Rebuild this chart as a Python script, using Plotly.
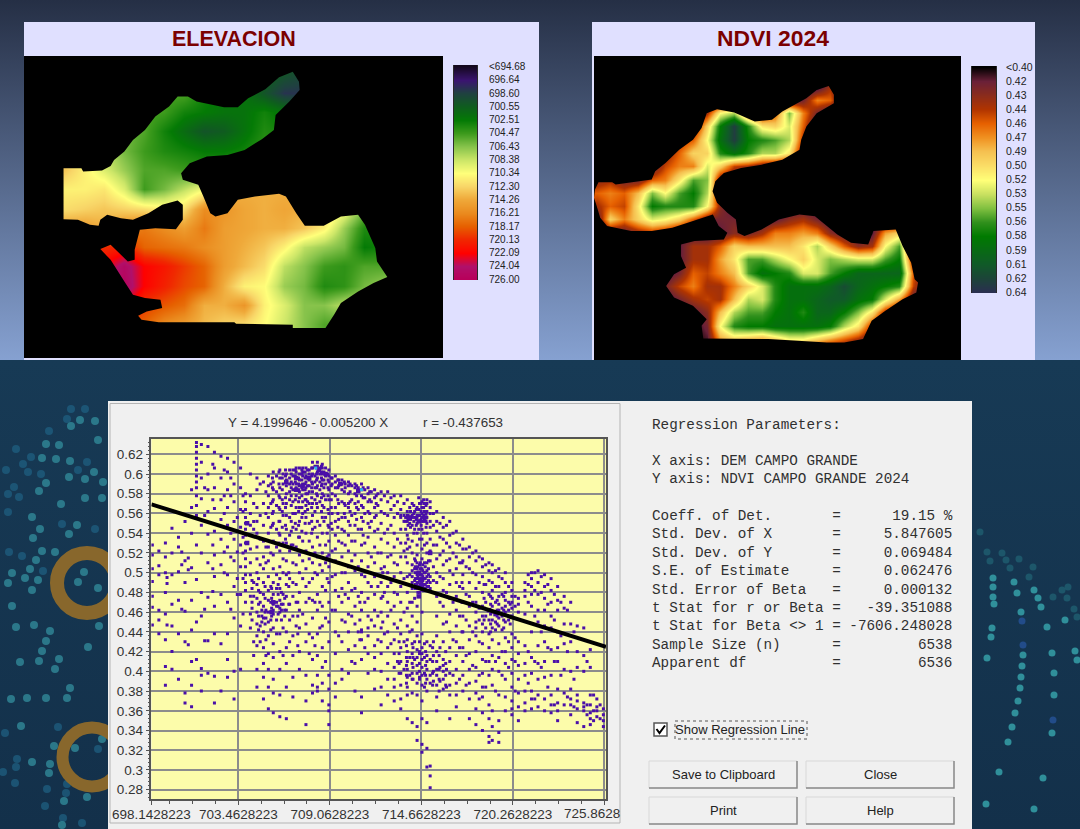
import plotly.graph_objects as go

W, H = 1080, 829

# ---- elevation map (grid, map units) ----
elev_x = [70 + 58 * i for i in range(22)]
elev_y = [162 + 58 * j for j in range(16)]
elev_z = [
    [712,712,710,708,706,705,705,705,704,703,703,702,701,700,700,700,702,702,702,702,702,702],
    [712,712,710,708,706,705,705,705,704,703,703,702,701,700,699,700,702,702,702,702,702,702],
    [712,712,710,708,706,705,705,705,705,703,702,702,700,698,698,700,702,702,702,702,702,702],
    [712,711,710,708,706,705,705,704.5,703,702.5,702,702,703,702,700,700,702,702,702,702,702,702],
    [712,711,710,708,707,706,705,703,701.5,700,700.5,702,703.5,703,702,702,702,702,702,702,702,702],
    [714,712,710,708,708,706,704.5,703.5,703,702.5,702.5,703,704,704,704,704,704,704,704,704,704,704],
    [714,714,713,711,709,707,705,705,704.5,704,704,704,704,704,704,704,704,704,704,704,704,704],
    [712,712,711,711,711.5,709,704.5,706,708,710,713,714,714,714,714,714,714,714,714,714,714,714],
    [712,712,712,712.5,713,712.5,712,711,712,716,715.5,714.5,714,714.5,714,713,710,706,704,704,704,704],
    [715,715,715,715,714,716,717,716,715,717,715,714.5,714,714,713,711,707,703.5,703,704,704,704],
    [718,718,718,719,720,720.5,718,717.5,717,716,715,714,713,711,708,707,706,702.5,703,704,704,704],
    [722,722,722,722,722,725,722,721,719.5,718,715,713.5,712,708,706.5,704.5,704,705,705,706,706,706],
    [724,724,724,724,724,725.5,722,720.5,719,718,714,711,710.5,707,706,703.5,704,706,707,707,707,707],
    [723,723,723,723,723,723,719.5,718.5,717.5,714,714,715.5,711,709,706.5,706.5,708,708,708,708,708,708],
    [718,718,718,718,718,718,718,716,715,713.5,712.5,712,710.5,708.5,706.5,705,705,705,705,705,705,705],
    [718,718,718,718,718,718,718,716,715,713.5,712.5,712,710.5,708.5,706.5,705,705,705,705,705,705,705],
]
elev_outline_x = [183,235,240,295,320,330,360,385,420,450,490,515,545,570,650,690,720,770,810,850,868,870,840,800,795,760,710,660,600,550,525,530,575,590,610,625,660,690,740,810,830,860,885,940,990,1040,1060,1090,1095,1125,1085,1040,990,970,945,850,850,685,680,460,410,400,425,470,465,420,385,360,320,290,320,370,390,390,405,450,510,530,530,515,470,430,385,350,310,290,285,260,225,183,183]
elev_outline_y = [505,505,515,512,498,480,455,420,390,350,320,290,290,305,322,322,295,268,232,215,245,270,305,345,390,418,450,465,470,490,520,540,555,590,640,650,640,600,590,582,590,640,678,678,650,645,675,745,785,832,850,875,910,945,985,985,975,972,968,968,960,948,935,925,900,895,885,845,780,748,735,785,780,750,690,685,688,660,615,602,615,640,660,655,645,660,678,675,660,658,505]
elev_levels = [694.68,696.64,698.60,700.55,702.51,704.47,706.43,708.38,710.34,712.30,714.26,716.21,718.17,720.13,722.09,724.04,726.00]
elev_labels = ["<694.68","696.64","698.60","700.55","702.51","704.47","706.43","708.38","710.34","712.30","714.26","716.21","718.17","720.13","722.09","724.04","726.00"]
elev_colors = ["#14081e","#3a1470","#1f4140","#0f5c1f","#047a05","#3c9a1c","#85c24a","#cce668","#ffff7a","#f8d668","#efa93a","#ea8a1e","#e66000","#f02800","#ff0000","#b0106a","#b8005a"]

# ---- NDVI map: (first column, values) per row, the rest of the row is below 0.40 ----
ndvi_x = [160 + 40 * i for i in range(27)]
ndvi_y = [180 + 40 * j for j in range(23)]
ndvi_rows = [
    (0, []), (0, []), (17, [44]), (15, [42,47,46]),
    (8, [44,52,54,46,43,46,55,47,42]),
    (7, [42,50,58,63,57,51,50,53,46]),
    (6, [44,46,52,59,63,58,57,56,54,44]),
    (5, [43,46,50,50,57,59,57,54,54,51,42]),
    (4, [41,45,47,47,53,50,45,44,42,41]),
    (0, [43,44,42,42,46,47,51,56,55,42]),
    (0, [46,47,46,49,55,52,56,58,54,42]),
    (0, [44,46,45,51,58,57,57,57,52,43]),
    (0, [41,50,47,50,53,52,50,46,42,42,42,40,40,41,43,44,42]),
    (1, [41,41,43,44,43,41,40,40,41,43,42,44,47,47,48,47,43,41,40,41,48,50]),
    (6, [41,44,44,46,50,49,49,49,49,51,54,50,46,43,44,52,56,42]),
    (6, [41,44,44,48,51,56,56,54,52,50,53,55,54,53,53,56,58,43]),
    (6, [42,46,45,47,49,56,59,58,57,53,53,56,58,60,60,60,60,46]),
    (5, [42,45,47,44,44,47,50,53,57,59,59,59,60,62,60,59,58,57,45]),
    (6, [42,44,45,44,49,54,53,57,59,59,60,61,61,59,58,53,48,41]),
    (7, [41,43,49,54,56,56,58,59,57,60,60,58,55,51,44,41]),
    (8, [42,52,57,58,58,59,59,59,59,58,54,51,44,41]),
    (8, [41,48,50,49,48,50,52,52,50,48,46,44,41]),
    (0, []),
]
ndvi_outline_x = [155,165,205,215,270,320,330,360,400,440,465,480,510,560,620,670,700,770,800,835,850,850,800,770,755,750,700,640,580,530,505,497,510,540,565,570,590,640,690,750,795,830,860,900,950,965,1030,1050,1075,1085,1095,1090,1050,1000,960,935,880,830,660,470,465,480,440,385,362,385,420,405,405,445,530,540,515,498,440,380,320,260,190,170,160,152,155]
ndvi_outline_y = [570,548,548,555,548,540,515,490,450,420,385,340,328,338,365,360,335,295,270,258,285,310,340,380,420,450,480,495,505,520,545,575,610,640,660,700,710,690,660,645,650,680,705,730,735,695,690,740,790,840,850,880,900,935,965,1020,1030,1030,1020,1018,980,960,920,895,860,825,805,770,735,725,720,700,680,645,665,685,695,695,680,655,620,595,570]
ndvi_levels = [40,41.5,43,44.5,46,47.5,49,50.5,52,53.5,55,56.5,58,59.5,61,62.5,64]
ndvi_labels = ["<0.40","0.42","0.43","0.44","0.46","0.47","0.49","0.50","0.52","0.53","0.55","0.56","0.58","0.59","0.61","0.62","0.64"]
ndvi_colors = ["#000000","#6a2038","#8a2c1c","#b03400","#e66000","#f09020","#f5c050","#fadc66","#ffff78","#c8e060","#80c040","#30901c","#007a00","#086a14","#105a28","#1c4438","#2a2f50"]

# ---- regression scatter: elevation column -> NDVI values x 1000 ----
scatter_x = [698.2,698.6,699.0,699.4,699.8,700.2,700.6,700.9,701.2,701.6,702.0,702.4,702.8,703.2,703.6,703.9,704.2,704.6,705.0,705.3,705.6,706.0,706.4,706.8,707.2,707.6,708.0,708.3,708.6,709.0,709.4,709.8,710.2,710.6,711.0,711.4,711.8,712.2,712.6,713.0,713.4,713.8,714.1,714.4,714.7,715.0,715.2,715.6,716.0,716.4,716.8,717.2,717.6,718.0,718.4,718.8,719.0,719.4,719.8,720.2,720.6,721.0,721.4,721.8,722.2,722.6,723.0,723.4,723.8,724.2,724.6,725.0,725.4,725.8]
scatter_y = [
    [528,518,504,491,476,465,447],
    [522,507,498,462,452,438],
    [530,516,500,480,458,432,405,386],
    [545,520,498,468,446,420,402],
    [536,526,501,472,438,392],
    [552,512,490,461,430,378,368],
    [584,566,540,505,472,442,410,386,364],
    [632,628,622,616,610,604,598,592,586,578,568,558,528,493,450,412],
    [630,612,596,575,548,520,480,456,403,396,380],
    [628,600,584,562,539,510,475,431,398],
    [622,606,586,565,542,518,496,466,438,395,368],
    [618,596,574,554,534,508,478,428,380],
    [616,602,584,566,548,526,498,470,438,412,394],
    [612,590,572,552,534,512,486,454,400,372],
    [606,586,564,546,528,506,478,446,402],
    [580,572,564,556,550,544,538,530,522,514,506,498,490,482,470],
    [600,578,560,548,538,524,510,498,476,458,444],
    [596,584,566,552,540,526,514,500,488,474,460,448,436,426,402,384],
    [592,570,548,532,516,504,490,478,466,454,440,424,408,394,372],
    [598,588,578,566,556,540,526,512,496,482,472,460,450,436,418,402,384,362],
    [602,592,584,574,562,550,532,518,504,490,478,468,462,458,444,428,414,392,378,358],
    [604,596,586,576,564,552,538,522,506,494,484,472,464,460,438,420,402,376,354],
    [600,594,588,580,570,558,544,530,512,498,488,476,462,440,424,408,384,352],
    [604,598,590,584,572,560,546,528,510,490,476,456,436,416,394,374],
    [606,600,594,588,582,576,566,552,536,518,500,480,462,444,420,402],
    [606,598,592,586,580,574,568,556,540,522,504,486,470,448,430,396,370,346],
    [612,606,600,590,582,570,558,544,526,510,494,472,454,434,412,386,378],
    [612,608,602,596,588,578,566,552,536,516,498,478,462,438,416,396,384,380],
    [610,606,600,594,590,580,568,556,540,520,502,486,466,446,424,404,388,370],
    [604,598,592,584,574,560,546,532,518,506,490,470,450,430,396,382,366,360,346],
    [598,592,586,578,566,552,538,524,512,498,482,462,440,418,388,374],
    [594,590,584,572,556,544,530,516,500,484,470,452,430,402,392],
    [592,588,580,570,566,552,538,522,506,490,474,458,440,422,398],
    [590,586,580,570,560,548,532,518,502,484,466,448,426,408,380],
    [590,584,578,568,556,544,528,512,498,480,462,442,440,432,412,374,358],
    [586,580,572,562,550,536,520,506,490,474,456,444,436,418,398],
    [584,576,566,556,542,526,510,496,478,462,446,426,414,402,382],
    [582,574,562,550,534,520,504,490,474,460,444,430,418,400,384,366],
    [582,572,558,544,530,516,500,486,470,456,440,424,408,392,376],
    [578,568,556,540,526,510,496,480,466,448,432,418,404,392,384,370],
    [578,564,558,556,544,530,516,500,486,470,452,438,424,410,398,386,372,362],
    [574,562,558,556,552,538,524,510,496,480,464,446,432,420,410,402,394,384,376,352],
    [570,558,556,548,532,520,508,502,496,490,484,470,456,442,428,418,408,398,392,378,348],
    [566,558,556,550,540,528,518,510,504,498,494,490,488,484,466,450,436,422,414,406,398,388,376,344,330],
    [572,566,560,556,552,544,534,524,514,504,498,494,490,488,484,460,438,424,418,412,404,396,386,370,352,326,318],
    [574,570,562,556,550,540,530,520,510,502,496,490,486,482,430,416,410,402,392,380,348,322,303],
    [572,566,560,552,546,534,522,512,496,490,484,426,412,396,388,304,294,282],
    [562,552,542,528,514,500,490,476,456,436,420,410,402,396,386,374,360],
    [556,546,534,522,508,494,482,466,448,430,412,406,400,392,382],
    [552,538,526,514,502,488,474,458,440,424,410,398,386,376,352],
    [542,530,516,504,490,476,462,446,430,416,402,388,376,364],
    [534,524,512,498,484,470,456,440,424,410,396,380],
    [526,516,504,490,476,466,446,432,418,402,388,372,352],
    [522,512,498,484,470,460,450,444,436,420,404,390,378,362,346],
    [514,506,496,480,466,456,448,440,428,412,398,384,374,358,340],
    [510,502,492,478,462,452,438,424,410,396,366,352,334,328],
    [508,500,490,482,474,466,460,452,444,432,416,402,386,360,344,330],
    [504,496,486,476,468,462,454,446,428,414,400,376,350,338,328],
    [500,490,480,472,466,460,450,434,420,408,392,374,360],
    [490,482,476,470,464,456,438,424,412,398,384,370,362,356],
    [474,468,460,430,418,406,392,378,364,350],
    [490,482,476,458,426,408,396,380,368,360],
    [500,494,486,478,466,440,414,398,380,372,362],
    [502,490,478,462,450,426,408,392,376,364],
    [498,486,474,462,446,430,410,394,372,360],
    [494,482,470,456,444,422,396,376,366,358],
    [486,472,462,440,424,410,382,368,360,350],
    [476,464,448,428,402,378,366],
    [470,448,430,400,382,372,366,356],
    [446,420,404,376,370,362,348],
    [444,416,400,368,364,360,344],
    [422,404,376,366,358,352,346],
    [372,364,360,354],
    [362,356,350,344],
]
# second pass over the cloud, between the columns above
scatter2_x = [699.1,700.0,700.4,701.4,701.9,702.6,703.0,703.4,703.75,704.4,704.8,705.15,705.45,705.8,706.2,706.6,707.0,707.4,707.8,708.15,708.45,708.8,709.2,709.6,710.0,710.4,710.8,711.2,711.6,712.0,712.4,712.8,713.2,713.6,713.95,714.25,714.55,714.85,715.4,715.8,716.2,716.6,717.0,717.4,717.8,718.2,718.6,719.2,719.6,720.0,720.4,721.2,721.6,722.0,722.4,722.8,723.2,723.6,724.0,724.8,725.2,725.6]
scatter2_y = [
    [495,489,447],[521,508,463],[515,503,427],[586,558,463,431],[610,574,528,504,481],[604,578,560,521,500],
    [596,578,540,516,463],[556,521,494,478],[578,562,536,520,494,458],[570,552,544,490,476,430,416],
    [590,558,534,508,480,470,446,430],[582,560,526,510,462,454,432,416],[590,570,546,520,486,470,452,442],
    [598,582,568,544,526,498,484,470,466,452,438],[600,590,570,558,530,514,500,478,468,444,416],
    [604,596,590,582,574,556,538,522,494,468,452,430],[606,602,596,590,586,578,566,544,526,508,488,470,446],
    [606,602,598,590,584,572,560,532,512,494,458],[604,600,594,588,582,570,550,532,514,490,474,438,418],
    [608,598,592,586,574,562,546,520,500,470,426],[606,600,592,584,572,548,528,508,470,444],
    [606,598,590,574,556,528,510,482,454,410],[596,590,580,560,544,522,496,462],[594,588,570,554,532,510,476,436],
    [590,586,568,556,528,500,478,450],[588,574,558,532,512,482,456,410],[586,582,572,564,544,506,476,440],
    [584,576,560,530,496,470,424],[582,572,552,516,486,452],[580,568,544,520,486,456,432],[578,560,540,506,480,438],
    [576,564,548,518,490,462,428],[572,560,534,508,478,444,410],[570,558,552,522,494,460,430,402],
    [566,556,550,526,498,470,440,414,396],[562,556,544,514,504,492,486,474,430,412],
    [570,558,552,534,508,500,494,486,480,420,408,394],[570,562,554,528,510,500,494,488,482,428,414,398,384],
    [560,548,528,506,492,430,416,400,390],[550,536,518,496,470,424,404,390],[548,530,512,480,450,402,384],
    [540,520,498,470,432,396],[528,510,486,456,424,392],[524,506,478,452,416,386],[520,500,470,440,406],
    [516,490,464,452,430,396,372],[508,488,470,456,444,410,384],[502,486,470,460,450,442,410,380],
    [494,478,464,456,442,420,396],[486,470,462,452,430,404],[476,466,434,410,380],[498,488,470,420,388],
    [500,482,456,410,372],[496,480,440,404],[488,468,424,384],[478,452,410,366],[470,436,396],[462,420,374],
    [440,392,364],[410,366,356],[376,360,350],[366,352],
]
# third pass: the dense patches of the cloud
scatter3_x = [705.55,705.95,706.15,706.35,706.7,706.95,707.15,707.35,707.55,707.7,707.95,708.25,708.55,708.7,708.95,709.15,709.55,709.95,710.3,710.7,711.1,711.5,711.9,713.7,713.85,714.0,714.2,714.35,714.5,714.65,714.8,714.95,714.3,714.45,714.6,714.75,714.9,715.1,704.3,704.7,705.1,705.5,705.9,706.1,704.9,706.3,713.3,713.75,714.15,714.55,714.92,715.35,715.75,716.15,718.9,719.3,719.7,718.5,720.1,707.1,706.55,708.9,710.9,712.3,717.15]
scatter3_y = [
    [596,586,572,560,548],[602,590,578,566,552,540,530],[596,584,574,562,546],[604,598,592,576,566,548,534],
    [600,592,586,578,568,552,542,528],[604,598,592,584,574,560,550],[596,590,584,572,562,548,536],
    [604,600,594,586,578,566,556,542],[602,596,590,584,574,562,550],[604,596,588,580,572,564],
    [606,598,592,586,576,566,552,540],[606,600,594,586,580,570],[608,602,596,588,576,562],[602,594,586,578,566,552],
    [600,594,586,578,564,548],[596,588,574,566,550],[594,586,574,560,546],[592,582,570,560,542],[590,582,572,562,548],
    [588,578,566,554],[586,576,566,552,538],[582,574,560,546],[578,570,558],[556,552,544,530,516],[558,554,548,534],
    [562,554,546],[568,560,552,540],[564,554,548],[576,564,558,552,544],[570,562,554,548],[574,566,558,552,540],
    [568,560,552,546],[512,506,500,494,488,484],[506,500,496,490,486,480],[510,504,498,492,488,484],
    [508,502,496,492,486,482],[506,500,494,488,484],[512,504,498,492,486,482],[492,484,470,464,452],
    [494,482,468,456,442],[486,474,460,448],[484,474,464,456],[488,478,466,458],[480,468,462,452],[462,456,450],
    [474,462,456],[430,418,408,398],[426,414,406,396,388],[424,414,404,392],[430,418,408,400,392],[420,406,396,388],
    [424,410,398,386],[416,402,392,380],[420,408,396,386],[476,468,458,448,440],[472,462,456,448],[476,462,452,444],
    [488,474,464,452],[468,456,448],[470,456,438,426],[500,486,468],[540,516,494],[470,452,432],[500,476,450],
    [510,490,470,440],
]
heavy_x = [706.4,707.0,707.0,707.4,707.8,708.4,708.8,709.7,710.8,704.0,704.0,705.5,705.6,713.9,714.5,714.5,714.6,714.7,714.9,714.5,715.2,718.8,719.2]
heavy_y = [592,596,584,588,596,604,600,590,583,550,530,460,470,556,552,500,492,486,556,476,520,462,458]
cyan_x = [708.2, 711.0]
cyan_y = [606, 584]

regression_x = [698.1428, 725.96]
regression_y = [0.5693, 0.4249]

x_ticks = [698.1428223,703.4628223,709.0628223,714.6628223,720.2628223,725.8628223]
x_tick_text = ["698.1428223","703.4628223","709.0628223","714.6628223","720.2628223",""]
y_ticks = [0.28,0.3,0.32,0.34,0.36,0.38,0.4,0.42,0.44,0.46,0.48,0.5,0.52,0.54,0.56,0.58,0.6,0.62]
y_tick_text = ["0.28","0.3","0.32","0.34","0.36","0.38","0.4","0.42","0.44","0.46","0.48","0.5","0.52","0.54","0.56","0.58","0.6","0.62"]

stats_lines = [
    (425, "Regression Parameters:"),
    (461, "X axis: DEM CAMPO GRANDE"),
    (479, "Y axis: NDVI CAMPO GRANDE 2024"),
    (516, "Coeff. of Det.       =      19.15 %"),
    (534, "Std. Dev. of X       =     5.847605"),
    (553, "Std. Dev. of Y       =     0.069484"),
    (571, "S.E. of Estimate     =     0.062476"),
    (590, "Std. Error of Beta   =     0.000132"),
    (608, "t Stat for r or Beta =   -39.351088"),
    (626, "t Stat for Beta <> 1 = -7606.248028"),
    (645, "Sample Size (n)      =         6538"),
    (663, "Apparent df          =         6536"),
]

# background dots, picture coordinates
bright_x = [99,88,78,84,98,69,85,102,69,85,94,103,98,95,80,71,59,46,42,56,70,46,39,61,77,32,40,33,55,42,36,30,25,38,32,12,8,12,16,34,46,50,42,39,59,55,20,70,67,46,27,11,21,54,75,32,50,49,64,87,102,62]
bright_y = [626,647,582,572,588,534,498,498,477,479,472,482,440,421,420,426,445,444,458,459,461,483,491,504,525,517,529,538,552,551,560,569,578,580,590,573,583,606,627,625,641,631,651,661,659,669,662,688,698,698,698,699,726,746,748,762,764,773,801,797,739,825]
dim_x = [16,31,23,6,28,41,14,8,19,8,9,22,43,62,95,87,78,49,67,71,85,58,5,17,16,3,15,47,45,66,67,63,82,98]
dim_y = [449,457,464,470,472,474,487,494,497,512,552,556,571,524,529,462,470,431,419,409,409,727,733,759,767,772,783,789,806,793,784,818,823,749]
teal_x = [986,1034,999,1043,1008,1012,1015,1018,1020,1021,1022,1023,1052,1054,1054,1052,987,991,992,1047,1021,1075,1077,1065,994,993,993,993,1014,1017,1041,1038,1034]
teal_y = [804,809,772,778,742,727,713,701,688,677,666,655,733,695,673,653,658,637,628,627,612,651,660,620,604,597,587,578,582,593,607,598,590]
faint_x = [990,987,1010,1006,1002,1029,1033,1019,1053,1067,1074,1077,1062,1068,980]
faint_y = [561,552,568,560,553,577,567,559,597,598,609,617,590,587,532]
blue_x = [1023,1053,1022]
blue_y = [645,720,621]

fig = go.Figure()


def rect(x0, y0, x1, y1, fill, line=None, gradient=None):
    # filled box on the page axis, as a trace so that it stays above the page background
    tr = dict(x=[x0, x1, x1, x0, x0], y=[y0, y0, y1, y1, y0], mode="lines", fill="toself",
              line=dict(color=line or fill, width=1 if line else 0), hoverinfo="skip", showlegend=False)
    if gradient:
        tr["fillgradient"] = dict(type="vertical", start=y0, stop=y1, colorscale=[[0, gradient[0]], [1, gradient[1]]])
    else:
        tr["fillcolor"] = fill
    fig.add_trace(go.Scatter(**tr))


def dots(xs, ys, color, size, opacity=0.8):
    fig.add_trace(go.Scatter(x=xs, y=ys, mode="markers", hoverinfo="skip", showlegend=False,
                             marker=dict(color=color, size=size, opacity=opacity, line=dict(width=0))))


def ring(cx, cy, size, width):
    fig.add_trace(go.Scatter(x=[cx], y=[cy], mode="markers", hoverinfo="skip", showlegend=False,
                             marker=dict(symbol="circle-open", size=size, opacity=0.95, color="#8e6a2a",
                                         line=dict(color="#8e6a2a", width=width))))


def scale(levels, colors):
    low, high = levels[0], levels[-1]
    return [[min(1, round((v - low) / (high - low), 5)), c] for v, c in zip(levels, colors)]


def mask(outline_x, outline_y, x0, y0, x1, y1, xa, ya):
    # black frame around a map's outline
    fig.add_trace(go.Scatter(x=[x0, x0, x1, x1, x0] + outline_x + [x0],
                             y=[y0, y1, y1, y0, y0] + outline_y + [y0],
                             mode="lines", fill="toself", fillcolor="#000000", line=dict(width=0),
                             xaxis=xa, yaxis=ya, hoverinfo="skip", showlegend=False))


def dom_x(a, b):
    return [a / W, b / W]


def dom_y(top, bottom):
    return [1 - bottom / H, 1 - top / H]


# page background
rect(0, 0, W, 360, "#26324a", gradient=("#252f45", "#86a1d1"))
rect(0, 360, W, H, "#16384f", gradient=("#173a55", "#13304a"))
dots(dim_x, dim_y, "#1f5f80", 8, 0.75)
dots(bright_x, bright_y, "#2f8494", 8, 0.85)
dots(faint_x, faint_y, "#1f5f70", 7, 0.8)
dots(teal_x, teal_y, "#35a0a8", 7, 0.85)
dots(blue_x, blue_y, "#234f90", 7, 0.9)
ring(87, 583, 60, 14)
ring(92, 757, 59, 12)

# map panels and dialog
rect(24, 22, 539, 360, "#e0e0ff")
rect(592, 22, 1035, 360, "#e0e0ff")
rect(24, 56, 443, 358, "#000000")
rect(594, 56, 961, 360, "#000000")
rect(108, 401, 972, 829, "#f0f0f0")
rect(110, 403.5, 620, 823, "#f0f0f0", line="#b4b4b4")
rect(151.4, 438.7, 606, 799, "#fcfcaa")

# elevation map with its outline mask
fig.add_trace(go.Heatmap(x=elev_x, y=elev_y, z=elev_z, zmin=694.68, zmax=726, zsmooth="best", showscale=False,
                         colorscale=scale(elev_levels, elev_colors),
                         xaxis="x2", yaxis="y2", hoverinfo="skip"))
mask(elev_outline_x, elev_outline_y, 68, 168, 1287, 1075, "x2", "y2")

# elevation legend
fig.add_trace(go.Heatmap(x=[0, 1], y=elev_levels, z=[[v, v] for v in elev_levels], zmin=694.68, zmax=726,
                         zsmooth="best", showscale=False, colorscale=scale(elev_levels, elev_colors),
                         xaxis="x3", yaxis="y3", hoverinfo="skip"))

# NDVI map
ndvi_z = [[40] * first + vals + [40] * (27 - first - len(vals)) for first, vals in ndvi_rows]
fig.add_trace(go.Heatmap(x=ndvi_x, y=ndvi_y, z=ndvi_z, zmin=40, zmax=64, zsmooth="best", showscale=False,
                         colorscale=scale(ndvi_levels, ndvi_colors),
                         xaxis="x4", yaxis="y4", hoverinfo="skip"))
mask(ndvi_outline_x, ndvi_outline_y, 152, 168, 1220, 1083, "x4", "y4")

# NDVI legend
fig.add_trace(go.Heatmap(x=[0, 1], y=ndvi_levels, z=[[v, v] for v in ndvi_levels], zmin=40, zmax=64,
                         zsmooth="best", showscale=False, colorscale=scale(ndvi_levels, ndvi_colors),
                         xaxis="x5", yaxis="y5", hoverinfo="skip"))

# regression scatter
px, py = [], []
for xs, ys in ((scatter_x, scatter_y), (scatter2_x, scatter2_y), (scatter3_x, scatter3_y)):
    for xv, col in zip(xs, ys):
        for yv in col:
            px.append(xv)
            py.append(yv / 1000)
fig.add_trace(go.Scatter(x=px, y=py, mode="markers", xaxis="x6", yaxis="y6", hoverinfo="skip", showlegend=False,
                         marker=dict(symbol="square", size=3, color="#4a0fa8", line=dict(width=0))))
fig.add_trace(go.Scatter(x=heavy_x, y=[v / 1000 for v in heavy_y], mode="markers", xaxis="x6", yaxis="y6",
                         hoverinfo="skip", showlegend=False,
                         marker=dict(symbol="square", size=4.5, color="#4a0fa8", line=dict(width=0))))
fig.add_trace(go.Scatter(x=cyan_x, y=[v / 1000 for v in cyan_y], mode="markers", xaxis="x6", yaxis="y6",
                         hoverinfo="skip", showlegend=False,
                         marker=dict(symbol="square", size=3, color="#30b0e8", line=dict(width=0))))
fig.add_trace(go.Scatter(x=regression_x, y=regression_y, mode="lines", xaxis="x6", yaxis="y6", hoverinfo="skip",
                         showlegend=False, line=dict(color="#000000", width=4)))

hidden = dict(visible=False, fixedrange=True, automargin=False)
legend_x = dict(visible=False, fixedrange=True, range=[0, 1], automargin=False)


def legend_y(levels, labels, low, high, top, bottom, size, gap):
    return dict(domain=dom_y(top, bottom), range=[high, low], tickmode="array", tickvals=levels, ticktext=labels,
                side="right", ticks="outside", ticklen=gap, tickcolor="rgba(0,0,0,0)", showgrid=False, zeroline=False,
                showline=True, mirror=True, linecolor="#2a2a2a", linewidth=1, fixedrange=True, automargin=False,
                tickfont=dict(family="Liberation Sans", size=size, color="#222222"))


fig.update_layout(
    template="none", width=W, height=H, margin=dict(l=0, r=0, t=0, b=0, pad=0), autosize=False, showlegend=False,
    paper_bgcolor="#16384f", plot_bgcolor="rgba(0,0,0,0)",
    xaxis=dict(hidden, domain=[0, 1], range=[0, W]),
    yaxis=dict(hidden, domain=[0, 1], range=[H, 0]),
    xaxis2=dict(hidden, domain=dom_x(24, 443), range=[68, 1287], anchor="y2"),
    yaxis2=dict(hidden, domain=dom_y(56, 358), range=[1075, 168], anchor="x2"),
    xaxis3=dict(legend_x, domain=dom_x(454, 477), anchor="y3"),
    yaxis3=dict(legend_y(elev_levels, elev_labels, 694.48, 726.1, 65, 280, 10, 9), anchor="x3"),
    xaxis4=dict(hidden, domain=dom_x(594, 961), range=[152, 1220], anchor="y4"),
    yaxis4=dict(hidden, domain=dom_y(56, 360), range=[1083, 168], anchor="x4"),
    xaxis5=dict(legend_x, domain=dom_x(972, 996), anchor="y5"),
    yaxis5=dict(legend_y(ndvi_levels, ndvi_labels, 39.9, 64.1, 66, 293, 10.5, 7), anchor="x5"),
    xaxis6=dict(domain=dom_x(151.4, 606), range=[698.1428, 725.96], anchor="y6", tickmode="array", automargin=False,
                tickvals=x_ticks, ticktext=x_tick_text, ticks="outside", ticklen=4, tickcolor="#555555",
                ticklabelstandoff=-2,
                showgrid=True, gridcolor="#8c8c8c", gridwidth=1.5, zeroline=False, showline=True, mirror=True,
                linecolor="#555555", linewidth=1.5, fixedrange=True,
                minor=dict(ticks="outside", ticklen=3, tickcolor="#555555", tick0=703.4628223, dtick=1.4, showgrid=False),
                tickfont=dict(family="Liberation Sans", size=13.5, color="#333333")),
    yaxis6=dict(domain=dom_y(438.7, 799), range=[0.2706, 0.6358], anchor="x6", tickmode="array", automargin=False,
                tickvals=y_ticks, ticktext=y_tick_text, ticks="outside", ticklen=4, tickcolor="#555555",
                showgrid=True, gridcolor="#8c8c8c", gridwidth=1.5, zeroline=False, showline=True, mirror=True,
                linecolor="#555555", linewidth=1.5, fixedrange=True,
                minor=dict(ticks="outside", ticklen=2, tickcolor="#555555", tick0=0.28, dtick=0.004, showgrid=False),
                tickfont=dict(family="Liberation Sans", size=13.5, color="#333333")),
)


def label(x, y, text, size, color="#333333", family="Liberation Sans", anchor="left"):
    fig.add_annotation(x=x, y=y, xref="x", yref="y", text=text, showarrow=False, xanchor=anchor, yanchor="middle",
                       font=dict(family=family, size=size, color=color), borderpad=0, borderwidth=0)


label(234, 39, "<b>ELEVACION</b>", 21.5, "#7b0000", anchor="center")
label(773, 38, "<b>NDVI 2024</b>", 22.9, "#7b0000", anchor="center")
label(228, 422, "Y = 4.199646 - 0.005200 X", 13.4)
label(423, 422, "r = -0.437653", 13.4)
label(564, 813, "725.8628", 13.5)
for y, line in stats_lines:
    label(652, y, line.replace(" ", "\u00a0"), 14.3, "#303030", "Liberation Mono")
label(675, 729, "Show Regression Line", 13, "#222222")

# checkbox and buttons
fig.add_shape(type="rect", x0=654, y0=723, x1=667, y1=736, xref="x", yref="y", fillcolor="#ffffff",
              line=dict(color="#555555", width=1.5))
fig.add_shape(type="path", path="M656.5 729 L659.5 733 L665 725.5", xref="x", yref="y",
              line=dict(color="#000000", width=2))
fig.add_shape(type="rect", x0=675, y0=721, x1=807, y1=739, xref="x", yref="y",
              line=dict(color="#555555", width=1, dash="dot"))
for x0, x1, y0, y1, text in [(649, 797, 761, 788, "Save to Clipboard"), (806, 954, 761, 788, "Close"),
                             (649, 797, 797, 824, "Print"), (806, 954, 797, 824, "Help")]:
    fig.add_shape(type="rect", x0=x0, y0=y0, x1=x1, y1=y1, xref="x", yref="y", fillcolor="#f0f0f0",
                  line=dict(color="#d8d8d8", width=1))
    fig.add_shape(type="path", path=f"M{x0} {y1} L{x1} {y1} L{x1} {y0}", xref="x", yref="y",
                  line=dict(color="#8a8a8a", width=1.5))
    label((x0 + x1) / 2, (y0 + y1) / 2, text, 13, "#222222", anchor="center")

fig.write_html("out.html", config={"displayModeBar": False},
               post_script="document.body.style.margin='0';document.body.style.overflow='hidden';")
